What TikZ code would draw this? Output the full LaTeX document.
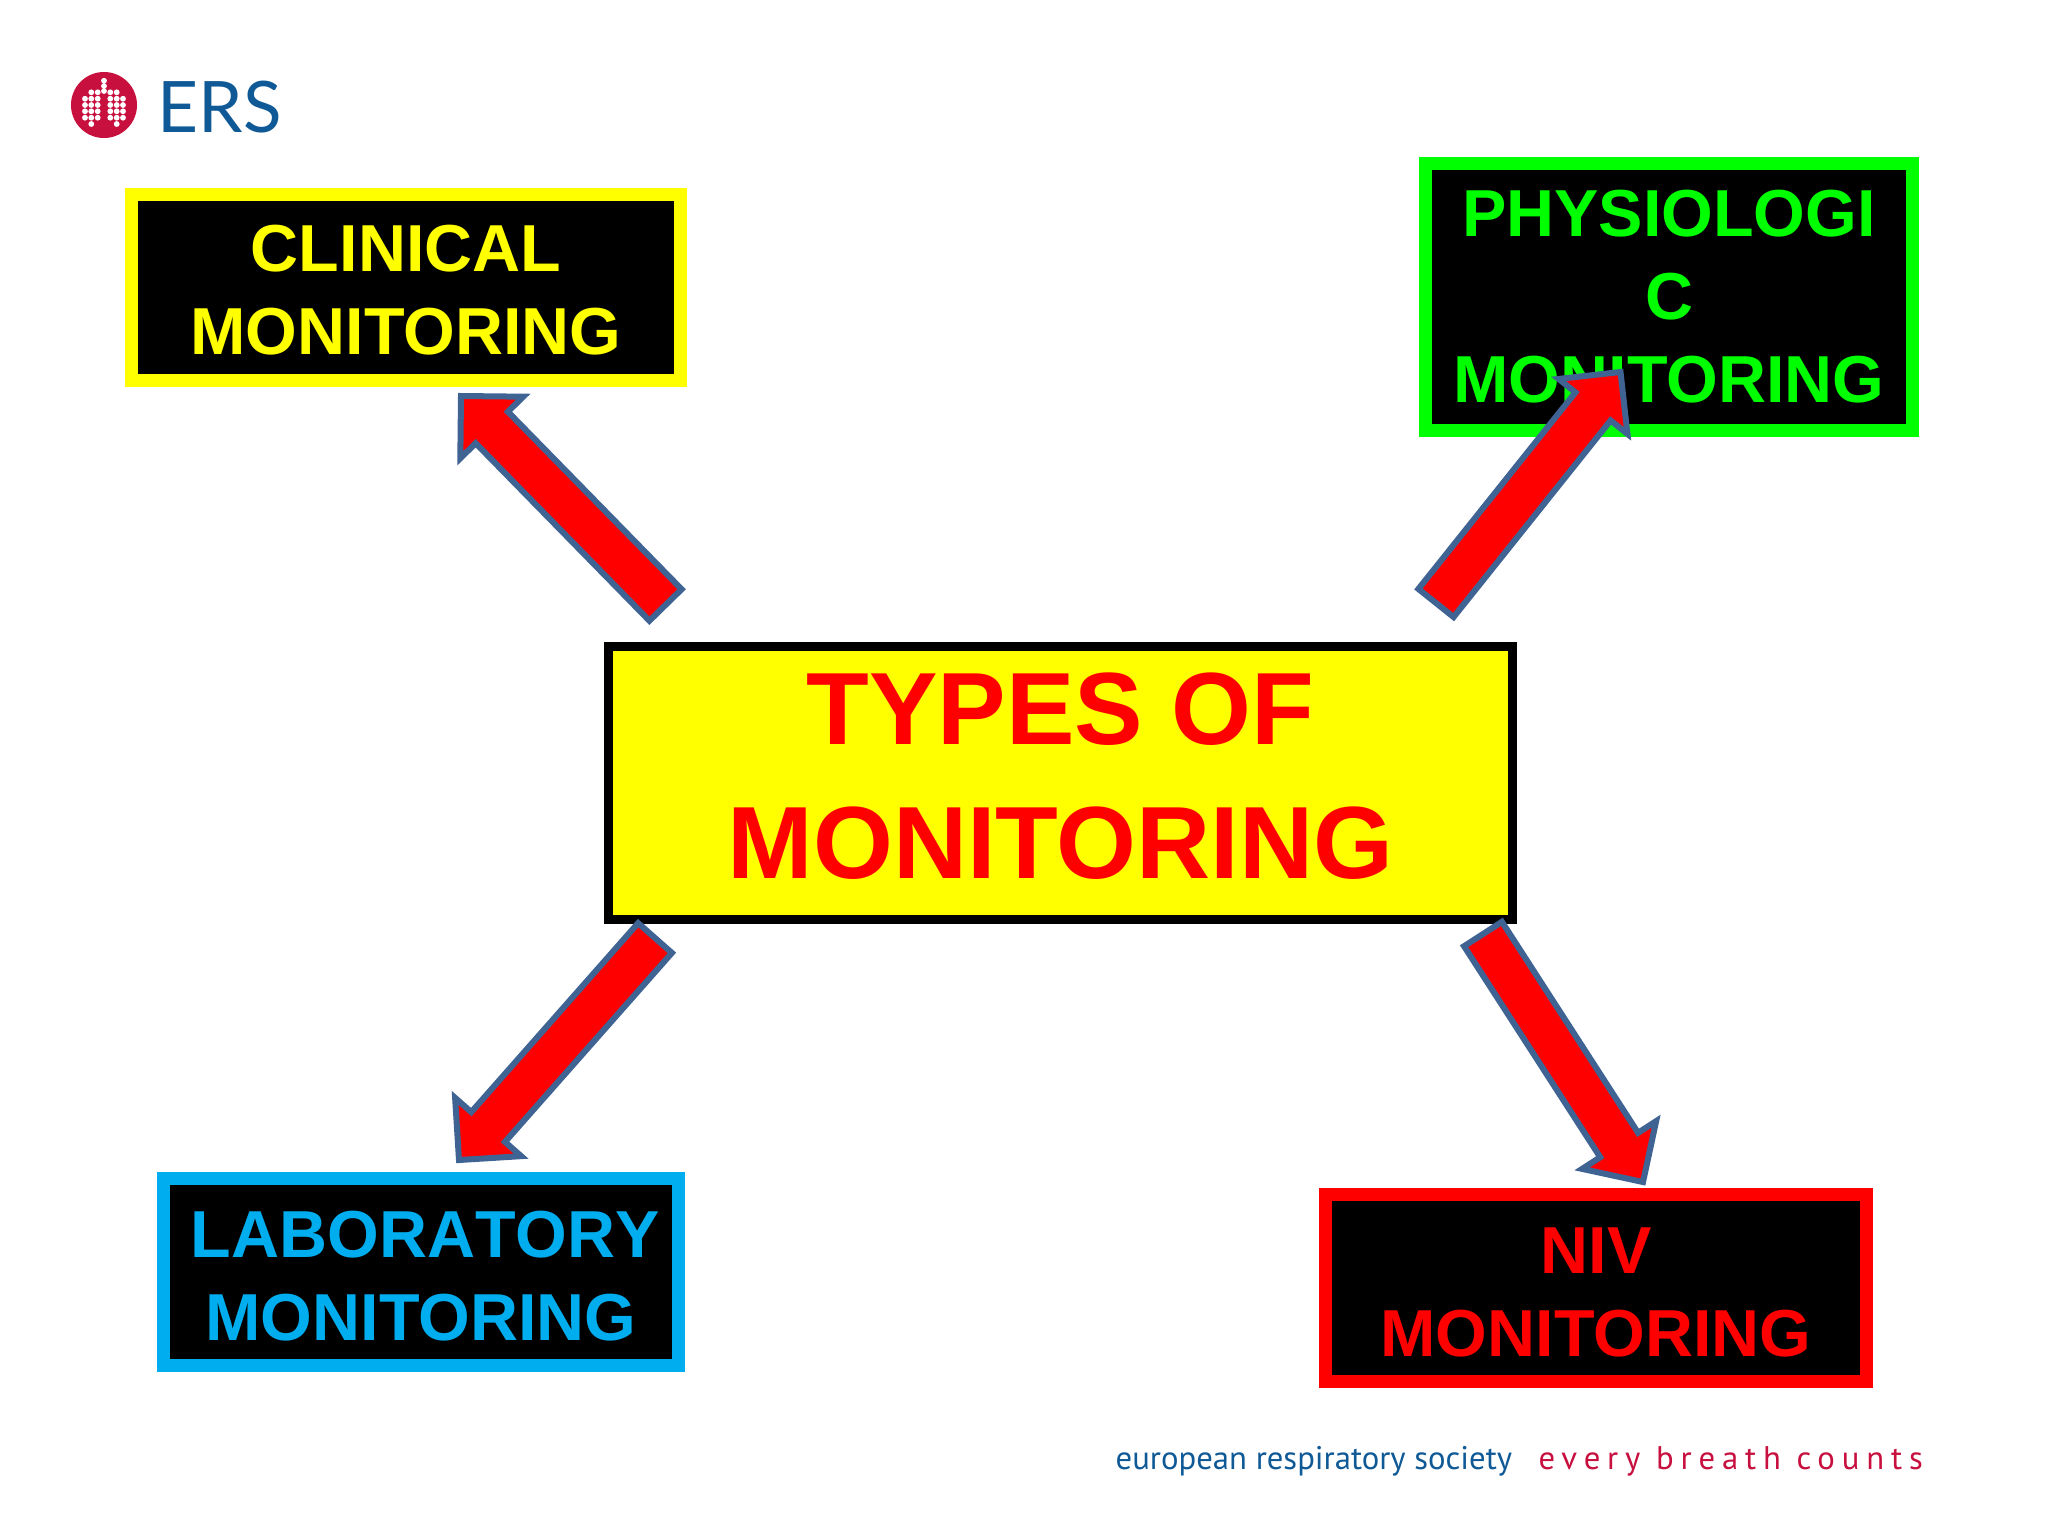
\documentclass[tikz,border=0pt]{standalone}
\usepackage{fontspec}
\usepackage{xcolor}
\usetikzlibrary{calc, positioning}
\setmainfont{Liberation Sans}
\newfontfamily\logofont{Lato}
\newfontfamily\footfont{PT Sans}
\definecolor{ersblue}{HTML}{0F5A96}
\definecolor{ersred}{HTML}{C8103F}
\definecolor{arrowedge}{HTML}{3F6392}
\definecolor{labblue}{HTML}{00AEEF}
\definecolor{physgreen}{HTML}{00FF00}
\definecolor{pureyellow}{HTML}{FFFF00}
\definecolor{purered}{HTML}{FF0000}

\newcommand{\blockarrow}[2]{%
  \coordinate (neck) at ($(#2)!0.44cm!(#1)$);
  \draw[bigarrow]
    ($(#1)!0.225cm!90:(#2)$) -- ($(neck)!0.225cm!-90:(#1)$)
    -- ($(neck)!0.44cm!-90:(#1)$) -- (#2)
    -- ($(neck)!0.44cm!90:(#1)$) -- ($(neck)!0.225cm!90:(#1)$)
    -- ($(#1)!0.225cm!-90:(#2)$) -- cycle;
}

\begin{document}
\begin{tikzpicture}[x=0.01cm, y=-0.01cm,
  monitorbox/.style={rectangle, draw=#1, text=#1, fill=black, line width=0.13cm,
    align=center, inner sep=0pt, font=\bfseries\fontsize{18.9}{23.6}\selectfont},
  typesbox/.style={rectangle, draw=black, text=purered, fill=pureyellow, line width=0.09cm,
    align=center, inner sep=0pt, text depth=4pt, font=\bfseries\fontsize{29.2}{38.2}\selectfont},
  bigarrow/.style={draw=arrowedge, fill=purered, line width=0.06cm, line join=miter}]
\useasboundingbox[fill=white] (0,0) rectangle (2048,1536);

% logo
\node[circle, fill=ersred, minimum size=0.66cm, inner sep=0pt] (lungs) at (104,105) {};
\foreach \c/\ya/\yb in {-19/-6.3/12.7, -12.7/-12.7/19, -6.3/-12.7/12.7, 6.3/-12.7/12.7, 12.7/-12.7/19, 19/-6.3/12.7} {
  \foreach \r in {-12.7,-6.3,0,6.3,12.7,19} {
    \ifdim \r pt<\ya pt\relax\else\ifdim \r pt>\yb pt\relax\else
      \fill[white] ($(lungs.center)+(\c,\r)$) circle (0.029cm);
    \fi\fi
  }
}
\foreach \r in {-24.3,-19,-14} {
  \fill[white] ($(lungs.center)+(0,\r)$) circle (0.029cm);
}
\node[anchor=base west, inner sep=0pt, text=ersblue, font=\logofont\fontsize{20.2}{21}\selectfont] (ers) at (157,132) {ERS};

% boxes
\node[typesbox, minimum width=9.04cm, minimum height=2.73cm] (types) at (1060.5,783) {TYPES OF\\MONITORING};
\node[monitorbox=pureyellow, text height=38.1pt, minimum width=5.48cm, minimum height=1.86cm] (clinical) at (406,287.5) {CLINICAL\\MONITORING};
\node[monitorbox=physgreen, minimum width=4.87cm, minimum height=2.67cm] (physio) at (1669,297) {PHYSIOLOGI\\C\\MONITORING};
\node[monitorbox=labblue, text height=38.9pt, minimum width=5.15cm, minimum height=1.87cm] (lab) at (421,1272) {\hspace*{2.5pt}\addfontfeature{Kerning=Off}LABORATORY\\MONITORING};
\node[monitorbox=purered, text height=38.9pt, minimum width=5.41cm, minimum height=1.87cm] (niv) at (1596,1288) {NIV\\MONITORING};

% arrows
\coordinate (clinicalTail) at (665.5,605);
\coordinate (clinicalTip) at (461,396);
\coordinate (physioTail) at (1436,603);
\coordinate (physioTip) at (1620.5,372);
\coordinate (labTail) at (655,938);
\coordinate (labTip) at (459,1160);
\coordinate (nivTail) at (1483,934);
\coordinate (nivTip) at (1643,1182);
\blockarrow{clinicalTail}{clinicalTip}
\blockarrow{physioTail}{physioTip}
\blockarrow{labTail}{labTip}
\blockarrow{nivTail}{nivTip}

% footer
\node[anchor=base west, inner sep=0pt, text=ersblue, font=\footfont\fontsize{9.3}{11}\selectfont] (society) at (1115,1469) {european respiratory society};
\node[anchor=base west, inner sep=0pt, text=ersred, font=\footfont\fontsize{9.3}{11}\selectfont\addfontfeature{LetterSpace=21}] (breath) at (1538,1469) {every breath counts};
\end{tikzpicture}
\end{document}
